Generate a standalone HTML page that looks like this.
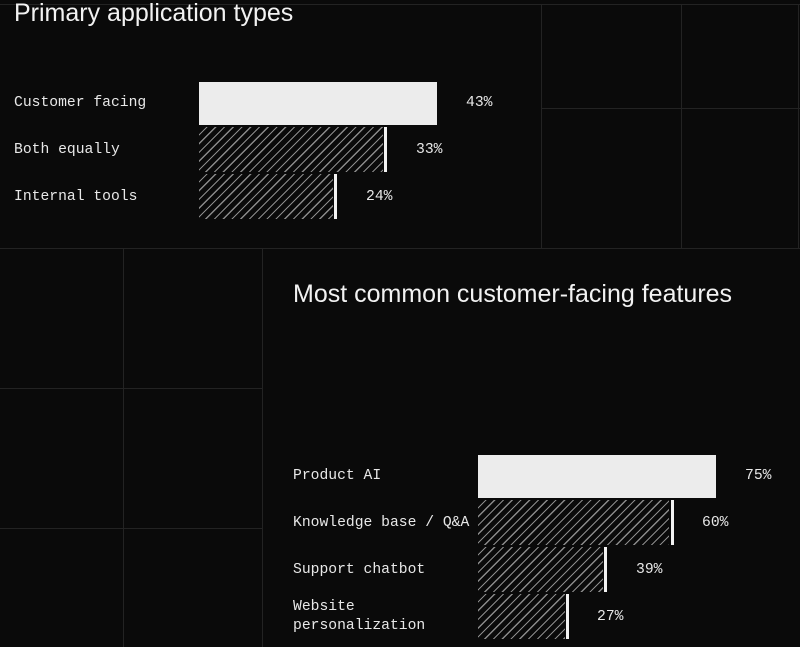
<!DOCTYPE html>
<html><head><style>
html,body{margin:0;padding:0;background:#0a0a0a;}
body{width:800px;height:647px;position:relative;overflow:hidden;font-family:"Liberation Sans",sans-serif;color:#eee;}
.l{position:absolute;background:#232323;}
.t{position:absolute;font-size:25px;color:#f2f2f2;white-space:nowrap;}
.m{position:absolute;font-family:"Liberation Mono",monospace;font-size:14.7px;color:#e8e8e8;white-space:nowrap;line-height:19px;}
.solid{position:absolute;background:#ececec;}
.hat{position:absolute;background:repeating-linear-gradient(135deg,#0a0a0a 0,#0a0a0a 5px,#8a8a8a 5px,#8a8a8a 6.2px);}
.cap{position:absolute;background:#f2f2f2;width:3px;}
</style></head><body>
<div class="l" style="left:0;top:4px;width:800px;height:1px"></div>
<div class="l" style="left:0;top:248px;width:800px;height:1px"></div>
<div class="l" style="left:541px;top:5px;width:1px;height:243px"></div>
<div class="l" style="left:681px;top:5px;width:1px;height:243px"></div>
<div class="l" style="left:798px;top:5px;width:1px;height:243px"></div>
<div class="l" style="left:541px;top:108px;width:259px;height:1px"></div>
<div class="l" style="left:123px;top:249px;width:1px;height:398px"></div>
<div class="l" style="left:262px;top:249px;width:1px;height:398px"></div>
<div class="l" style="left:0;top:388px;width:262px;height:1px"></div>
<div class="l" style="left:0;top:528px;width:262px;height:1px"></div>

<div class="t" style="left:14px;top:-1px">Primary application types</div>
<div class="m" style="left:14px;top:94px">Customer facing</div>
<div class="m" style="left:14px;top:141px">Both equally</div>
<div class="m" style="left:14px;top:188px">Internal tools</div>
<div class="solid" style="left:199px;top:82px;width:238px;height:43px"></div>
<div class="hat" style="left:199px;top:127px;width:184px;height:45px"></div>
<div class="cap" style="left:384px;top:127px;height:45px"></div>
<div class="hat" style="left:199px;top:174px;width:134px;height:45px"></div>
<div class="cap" style="left:334px;top:174px;height:45px"></div>
<div class="m" style="left:466px;top:94px">43%</div>
<div class="m" style="left:416px;top:141px">33%</div>
<div class="m" style="left:366px;top:188px">24%</div>

<div class="t" style="left:293px;top:280px">Most common customer-facing features</div>
<div class="m" style="left:293px;top:467px">Product AI</div>
<div class="m" style="left:293px;top:514px">Knowledge base / Q&amp;A</div>
<div class="m" style="left:293px;top:561px">Support chatbot</div>
<div class="m" style="left:293px;top:598px">Website<br>personalization</div>
<div class="solid" style="left:478px;top:455px;width:238px;height:43px"></div>
<div class="hat" style="left:478px;top:500px;width:191px;height:45px"></div>
<div class="cap" style="left:671px;top:500px;height:45px"></div>
<div class="hat" style="left:478px;top:547px;width:125px;height:45px"></div>
<div class="cap" style="left:604px;top:547px;height:45px"></div>
<div class="hat" style="left:478px;top:594px;width:87px;height:45px"></div>
<div class="cap" style="left:566px;top:594px;height:45px"></div>
<div class="m" style="left:745px;top:467px">75%</div>
<div class="m" style="left:702px;top:514px">60%</div>
<div class="m" style="left:636px;top:561px">39%</div>
<div class="m" style="left:597px;top:608px">27%</div>
</body></html>
